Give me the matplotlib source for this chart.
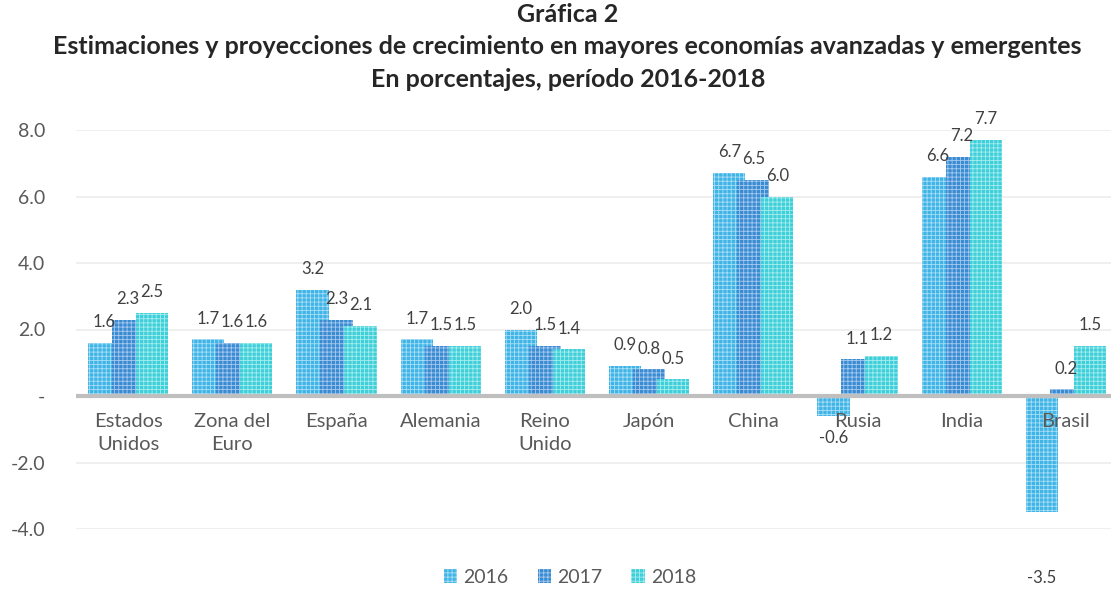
import numpy as np
import matplotlib
matplotlib.use('Agg')
import matplotlib.pyplot as plt
from matplotlib.patches import Patch

# datos
paises = ['Estados\nUnidos', 'Zona del\nEuro', 'España', 'Alemania', 'Reino\nUnido',
          'Japón', 'China', 'Rusia', 'India', 'Brasil']
anios = ['2016', '2017', '2018']
v2016 = [1.6, 1.7, 3.2, 1.7, 2.0, 0.9, 6.7, -0.6, 6.6, -3.5]
v2017 = [2.3, 1.6, 2.3, 1.5, 1.5, 0.8, 6.5, 1.1, 7.2, 0.2]
v2018 = [2.5, 1.6, 2.1, 1.5, 1.4, 0.5, 6.0, 1.2, 7.7, 1.5]
yticks = [-4, -2, 0, 2, 4, 6, 8]
ylabels = ['-4.0', '-2.0', '-', '2.0', '4.0', '6.0', '8.0']

plt.rcParams['font.family'] = ['Lato', 'DejaVu Sans']
plt.rcParams['hatch.linewidth'] = 0.6

colores = ['#3fb4e6', '#3a8cd2', '#3fcfd9']
tramas = ['#a9def5', '#a7c9ee', '#a6ecef']

fig = plt.figure(figsize=(11.11, 5.90), dpi=100)
ax = fig.add_axes([76 / 1111, 1 - 529 / 590, 1042 / 1111, (529 - 130) / 590])

x = np.arange(len(paises))
paso = 0.23
ancho = 0.31
series = [v2016, v2017, v2018]
for k, vals in enumerate(series):
    pos = x + (k - 1) * paso
    ax.bar(pos, vals, width=ancho, color=colores[k], edgecolor=tramas[k],
           hatch='++++', linewidth=0, zorder=2 + k)
    for xi, v in zip(pos, vals):
        off = 15 if v >= 0 else -16
        if v < -3:
            off = -47
        ax.annotate(f'{v:.1f}', (xi, v), xytext=(0, off), textcoords='offset points',
                    ha='center', va='center', fontsize=12, color='#404040',
                    annotation_clip=False, zorder=10)

ax.set_xlim(-0.5, len(paises) - 0.5)
ax.set_ylim(-4, 8)
ax.set_yticks(yticks)
ax.set_yticklabels(ylabels, fontsize=14, color='#595959')
ax.set_xticks([])
ax.tick_params(axis='y', length=0, pad=22)
ax.grid(axis='y', color='#ececec', linewidth=1.2, zorder=0)
ax.axhline(0, color='#bfbfbf', linewidth=3, zorder=6)
for s in ax.spines.values():
    s.set_visible(False)

for xi, p in zip(x, paises):
    ax.annotate(p, (xi, 0), xytext=(0, -12), textcoords='offset points',
                ha='center', va='top', fontsize=14.5, color='#595959',
                linespacing=1.45, zorder=7)

fig.text(0.511, 0.995, 'Gráfica 2\nEstimaciones y proyecciones de crecimiento en mayores economías avanzadas y emergentes\nEn porcentajes, período 2016-2018',
         ha='center', va='top', fontsize=18, fontweight='bold', color='#262626', linespacing=1.5)

handles = [Patch(facecolor=colores[k], edgecolor=tramas[k], hatch='++++', linewidth=0) for k in range(3)]
fig.legend(handles, anios, loc='center', bbox_to_anchor=(0.513, 0.021), ncol=3, frameon=False,
           fontsize=14, handlelength=0.7, handleheight=0.7, handletextpad=0.3, columnspacing=1.5,
           labelcolor='#595959')

fig.savefig('out.png', dpi=100)
